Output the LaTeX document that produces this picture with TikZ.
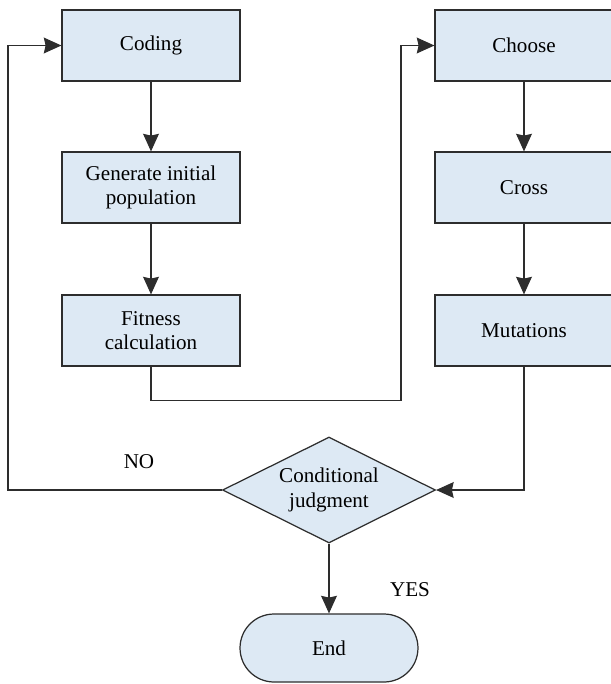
\documentclass[tikz,border=0pt]{standalone}
\usepackage{fontspec}
\setmainfont{Liberation Serif}
\usepackage{tikz}
\usetikzlibrary{arrows.meta, positioning, shapes.geometric}
\definecolor{boxblue}{RGB}{221,233,244}
\definecolor{linegray}{RGB}{45,45,45}
\tikzset{
	procbox/.style={draw=linegray, line width=0.7pt, fill=boxblue, align=center,
		minimum width=3.56cm, minimum height=1.42cm, inner sep=0pt, font=\large}
}
\tikzset{
	flowline/.style={draw=linegray, line width=0.6pt}
}

\begin{document}
\begin{tikzpicture}[x=0.02cm, y=-0.02cm, >={Stealth[length=10pt,width=9pt,inset=1pt]}]
      \useasboundingbox (0,0) rectangle (611,684);

      \node[procbox] (coding) at (151,45.5) {Coding};
      \node[procbox] (gen) at (151,187.5) {Generate initial\\ population};
      \node[procbox] (fit) at (151,330.5) {Fitness\\ calculation};
      \node[procbox] (choose) at (524,45.5) {Choose};
      \node[procbox] (cross) at (524,187.5) {Cross};
      \node[procbox] (mut) at (524,330.5) {Mutations};

      \node[diamond, draw=linegray, line width=0.7pt, fill=boxblue, align=center,
        aspect=2, inner sep=0pt, minimum width=4.26cm, minimum height=2.12cm,
        font=\large] (judge) at (329,490) {Conditional\\ judgment};
      \node[procbox, minimum width=3.56cm, minimum height=1.36cm,
        rounded corners=0.68cm] (stop) at (329,648) {End};

      \coordinate (turn) at (401,400.5);
      \coordinate (back) at (8,490);

      \draw[flowline, ->] (coding) -- (gen);
      \draw[flowline, ->] (gen) -- (fit);
      \draw[flowline, ->] (choose) -- (cross);
      \draw[flowline, ->] (cross) -- (mut);

      % loop from left column over to the right one
      \draw[flowline, ->] (fit.south) |- (turn) |- (choose.west);
      \draw[flowline, ->] (mut.south) |- (judge.east);
      \draw[flowline, ->] (judge.west) -- (back) |- (coding.west);
      \draw[flowline, ->] (judge) -- (stop);

      \node[font=\large] (no) at (139,462) {NO};
      \node[font=\large] (yes) at (410,590) {YES};
    \end{tikzpicture}
\end{document}
